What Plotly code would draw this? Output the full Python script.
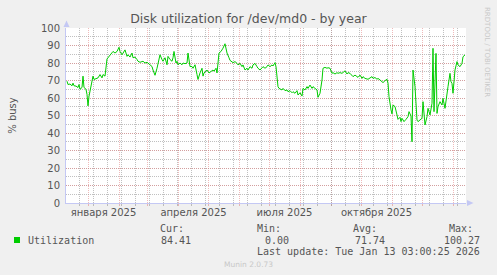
import pandas as pd
import plotly.graph_objects as go

# ---- data ----
start_date = "2025-01-01"
day_offsets = [-21, -20, -18, -16, -15, -14, -12, -10, -9, -8, -6, -5, -4, -2, -1, 0, 1, 3, 5, 6,
               8, 10, 12, 14, 15, 17, 19, 20, 22, 24, 25, 27, 29, 31, 32, 34, 35, 37, 39, 40,
               42, 44, 45, 47, 49, 50, 52, 55, 57, 59, 62, 64, 65, 67, 69, 70, 72, 74, 75, 77,
               79, 80, 82, 84, 85, 86, 88, 89, 90, 92, 94, 95, 97, 99, 100, 102, 104, 105, 107, 109,
               110, 112, 114, 115, 116, 118, 119, 121, 123, 125, 126, 128, 129, 130, 131, 133, 134, 135, 137, 138,
               139, 141, 142, 145, 147, 149, 150, 152, 154, 155, 157, 159, 160, 162, 164, 165, 167, 169, 170, 172,
               174, 175, 177, 179, 180, 182, 184, 185, 187, 188, 190, 191, 194, 195, 197, 199, 200, 202, 204, 205,
               207, 209, 210, 212, 214, 215, 217, 219, 220, 222, 224, 225, 227, 229, 230, 232, 234, 235, 237, 239,
               240, 242, 244, 245, 247, 249, 250, 252, 254, 255, 257, 259, 260, 262, 264, 265, 267, 269, 270, 272,
               274, 275, 277, 280, 284, 285, 287, 289, 290, 292, 294, 295, 297, 299, 300, 301, 303, 304, 305, 307,
               309, 310, 312, 313, 314, 316, 318, 320, 321, 323, 324, 325, 327, 329, 330, 332, 334, 335, 337, 339,
               340, 342, 344, 345, 346, 348, 349, 350, 352, 354, 355, 357, 359, 360, 362, 363, 364, 365, 367, 369,
               370, 372, 374, 375, 377]
utilization = [69.6, 67.7, 68.0, 67.0, 68.5, 67.0, 66.8, 66.0, 67.7, 65.0, 66.0, 72.5, 66.0, 65.0, 62.0, 55.5, 61.0, 66.0, 72.5, 70.6,
               71.0, 71.5, 73.4, 71.5, 73.4, 72.5, 82.3, 83.0, 84.7, 85.7, 86.6, 85.7, 86.6, 89.0, 86.6, 84.7, 85.7, 87.5, 83.8, 84.7,
               83.4, 85.7, 83.0, 83.4, 82.0, 81.0, 80.4, 81.0, 80.0, 80.4, 79.0, 78.0, 76.0, 73.0, 77.0, 80.0, 84.7, 82.0, 81.0, 83.0,
               79.0, 83.8, 82.0, 81.0, 83.0, 86.6, 80.0, 81.0, 79.0, 80.0, 79.0, 80.0, 79.6, 80.0, 85.7, 78.0, 78.0, 77.0, 79.0, 73.4,
               70.6, 74.3, 77.0, 72.5, 74.3, 75.3, 76.0, 74.3, 75.3, 76.0, 75.3, 77.0, 74.3, 79.0, 85.7, 86.6, 87.5, 88.5, 91.0, 88.5,
               85.7, 83.0, 81.5, 80.2, 80.8, 79.8, 78.9, 79.8, 77.9, 78.9, 76.0, 77.0, 76.0, 77.9, 77.0, 78.9, 79.8, 77.9, 77.0, 76.0,
               77.0, 77.9, 77.0, 77.9, 78.9, 77.9, 78.9, 78.3, 80.2, 77.9, 66.5, 65.5, 64.6, 65.5, 64.2, 64.6, 63.6, 64.2, 63.0, 63.6,
               62.7, 64.2, 61.7, 63.0, 61.1, 65.5, 64.6, 66.5, 65.5, 67.4, 65.5, 66.5, 65.5, 64.6, 60.4, 62.7, 70.3, 77.0, 77.5, 77.0,
               77.3, 77.0, 74.1, 74.5, 73.7, 74.5, 74.1, 74.5, 74.1, 74.5, 75.5, 73.7, 74.5, 74.1, 73.1, 72.2, 73.1, 72.2, 71.8, 73.1,
               71.2, 72.2, 71.2, 70.7, 72.2, 71.2, 71.7, 70.7, 71.2, 70.3, 69.3, 68.8, 69.9, 70.7, 68.5, 60.8, 53.2, 50.9, 56.0, 55.1,
               50.3, 47.8, 49.0, 46.5, 48.4, 46.5, 47.8, 49.3, 52.2, 49.7, 35.0, 76.0, 66.5, 47.4, 46.5, 47.4, 48.4, 57.9, 44.6, 49.3,
               54.1, 50.3, 57.0, 88.4, 52.2, 85.5, 51.2, 55.1, 57.9, 56.0, 59.8, 54.1, 63.6, 66.5, 74.1, 69.3, 68.3, 62.7, 76.0, 80.8,
               78.9, 77.9, 79.8, 83.6, 84.6]

x_label_vals = ["2025-01-16 12:00", "2025-04-16 12:00", "2025-07-16 12:00", "2025-10-16 12:00"]
x_label_text = ["января 2025", "апреля 2025", "июля 2025", "октября 2025"]
x_range = ["2024-12-10", "2026-01-14"]
y_ticks = [0, 10, 20, 30, 40, 50, 60, 70, 80, 90, 100]

series_name = "Utilization"
stat_names = ["Cur:", "Min:", "Avg:", "Max:"]
stat_values = ["84.41", "0.00", "71.74", "100.27"]
last_update = "Last update: Tue Jan 13 03:00:25 2026"
title_text = "Disk utilization for /dev/md0 - by year"

# ---- styling / layout constants ----
W, H = 497, 275
L, R, T, B = 66, 31, 28, 72
PW, PH = W - L - R, H - T - B
LINE_COLOR = "#00cc00"
MGRID = "rgba(225,130,130,0.55)"
GRID = "rgba(150,150,150,0.6)"
AXIS = "#c4c8f4"
TXT = "#555555"
DASH = "1px,1px"


def px(xp):
    return (xp - L) / PW


def py(yp):
    return (H - B - yp) / PH


dates = pd.Timestamp(start_date) + pd.to_timedelta(day_offsets, unit="D")

fig = go.Figure()
fig.add_trace(go.Scatter(x=[], y=[], xaxis="x2", yaxis="y", showlegend=False, hoverinfo="skip"))
fig.add_trace(go.Scatter(x=dates, y=utilization, mode="lines",
                         line=dict(color=LINE_COLOR, width=1), showlegend=False))

fig.update_layout(
    width=W, height=H,
    margin=dict(l=L, r=R, t=T, b=B, pad=0),
    paper_bgcolor="#f0f0f0", plot_bgcolor="#ffffff",
    font=dict(family="DejaVu Sans", size=10, color=TXT),
    title=dict(text=title_text, x=0.5, xref="container", xanchor="center",
               y=1 - 19 / H, yref="container", yanchor="middle",
               font=dict(family="DejaVu Sans", size=12.5, color=TXT)),
    xaxis=dict(type="date", range=x_range, tickmode="array", tickvals=x_label_vals,
               ticktext=x_label_text, ticks="", showgrid=False, zeroline=False,
               showline=True, linecolor=AXIS, linewidth=1,
               tickfont=dict(size=10, color=TXT),
               minor=dict(tickmode="linear", tick0="2025-01-01", dtick="M1", showgrid=True,
                          gridcolor=MGRID, griddash=DASH, gridwidth=1,
                          ticks="outside", ticklen=2, tickcolor=MGRID)),
    xaxis2=dict(type="date", range=x_range, overlaying="x", anchor="y", side="bottom",
                showticklabels=False, tickmode="linear", tick0="2024-12-23",
                dtick=14 * 86400000, showgrid=True, gridcolor=GRID, griddash=DASH,
                ticks="outside", ticklen=2, tickcolor=GRID, zeroline=False, showline=False),
    yaxis=dict(range=[0, 100], tickmode="array", tickvals=y_ticks, ticks="",
               showgrid=True, gridcolor=MGRID, griddash=DASH, zeroline=False,
               showline=True, linecolor=AXIS, linewidth=1,
               tickfont=dict(size=10, color=TXT), ticklabelstandoff=3,
               title=dict(text="% busy", font=dict(size=10, color=TXT), standoff=22),
               minor=dict(tickmode="linear", tick0=0, dtick=5, showgrid=True,
                          gridcolor=GRID, griddash=DASH)),
)

shapes = [
    # axis arrows
    dict(type="path", xref="paper", yref="paper", line=dict(width=0), fillcolor=AXIS,
         path=f"M {px(63.5)} {py(27)} L {px(69.5)} {py(27)} L {px(66.5)} {py(20.5)} Z"),
    dict(type="path", xref="paper", yref="paper", line=dict(width=0), fillcolor=AXIS,
         path=f"M {px(467)} {py(200)} L {px(467)} {py(206)} L {px(473.5)} {py(203)} Z"),
    # legend colour box
    dict(type="rect", xref="paper", yref="paper", x0=px(14), x1=px(20), y0=py(243), y1=py(237),
         fillcolor=LINE_COLOR, line=dict(width=0)),
]

MONO = dict(family="DejaVu Sans Mono", size=10, color=TXT)
ann = []


def text_at(x, y, s, font, xanchor="left", **kw):
    ann.append(dict(text=s, x=px(x), y=py(y), xref="paper", yref="paper", showarrow=False,
                    xanchor=xanchor, yanchor="middle", font=font, **kw))


text_at(26, 240, series_name, MONO)
head_x = [158, 255, 351, 447]
val_right = [193, 291, 387, 482]
for hx, name in zip(head_x, stat_names):
    text_at(hx, 228, name, MONO)
for vx, val in zip(val_right, stat_values):
    text_at(vx, 240, val, MONO, xanchor="right")
text_at(482, 251, last_update, MONO, xanchor="right")
text_at(248, 264, "Munin 2.0.73", dict(family="DejaVu Sans", size=7.5, color="#c8c8c8"), xanchor="center")
ann.append(dict(text="RRDTOOL / TOBI OETIKER", x=px(487), y=py(5), xref="paper", yref="paper",
                showarrow=False, xanchor="center", yanchor="top", textangle=90,
                font=dict(family="DejaVu Sans", size=7, color="#c8c8c8")))

fig.update_layout(shapes=shapes, annotations=ann)
fig.write_html("out.html")
